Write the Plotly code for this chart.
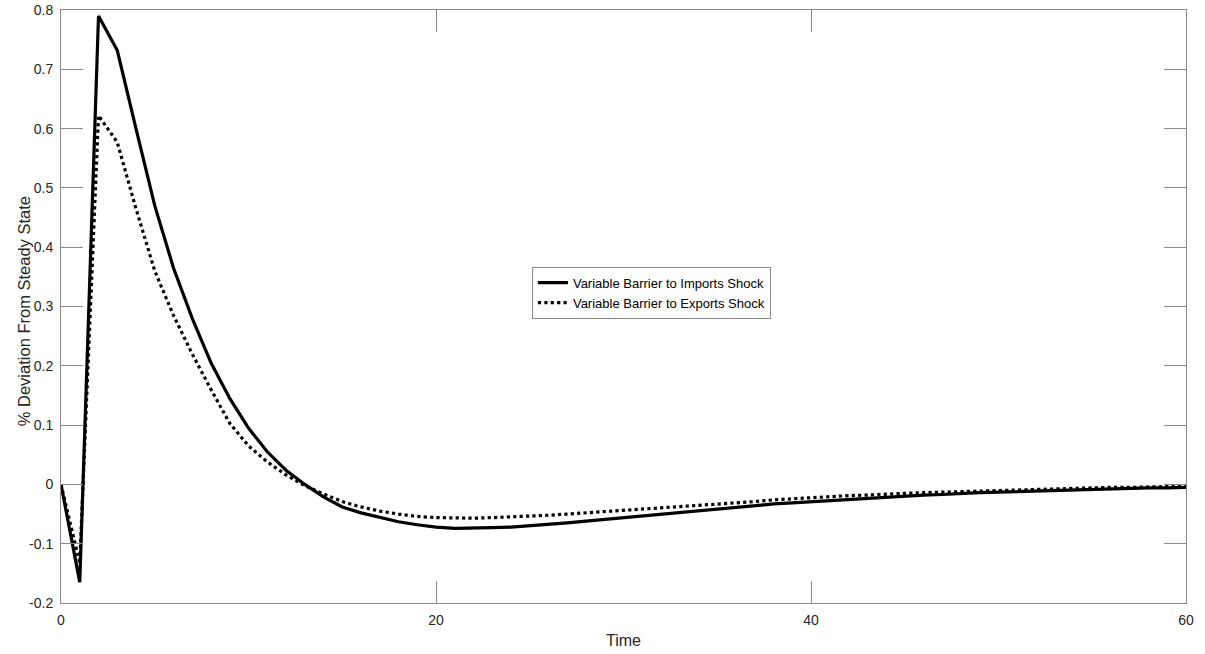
import plotly.graph_objects as go

time = list(range(0, 61))

imports_shock = [
    0.0, -0.165, 0.79, 0.732, 0.60, 0.47, 0.365, 0.28, 0.205, 0.145,
    0.095, 0.055, 0.024, 0.0, -0.021, -0.038, -0.048, -0.056, -0.063, -0.068,
    -0.072, -0.074, -0.074, -0.073, -0.072, -0.070, -0.068, -0.065, -0.062, -0.059,
    -0.056, -0.053, -0.050, -0.047, -0.044, -0.041, -0.038, -0.036, -0.033, -0.031,
    -0.029, -0.027, -0.025, -0.023, -0.021, -0.020, -0.018, -0.017, -0.015, -0.014,
    -0.013, -0.012, -0.011, -0.010, -0.009, -0.008, -0.008, -0.007, -0.006, -0.006,
    -0.005,
]

exports_shock = [
    0.0, -0.133, 0.622, 0.577, 0.465, 0.36, 0.285, 0.22, 0.16, 0.103,
    0.065, 0.038, 0.016, -0.002, -0.016, -0.029, -0.038, -0.045, -0.050, -0.054,
    -0.056, -0.057, -0.057, -0.056, -0.055, -0.054, -0.052, -0.050, -0.048, -0.046,
    -0.044, -0.042, -0.040, -0.037, -0.035, -0.033, -0.031, -0.029, -0.026, -0.024,
    -0.022, -0.021, -0.019, -0.018, -0.016, -0.015, -0.014, -0.013, -0.012, -0.011,
    -0.010, -0.009, -0.008, -0.007, -0.007, -0.006, -0.005, -0.005, -0.004, -0.004,
    -0.003,
]

series_names = ["Variable Barrier to Imports Shock", "Variable Barrier to Exports Shock"]
x_title = "Time"
y_title = "% Deviation From Steady State"

x_ticks = [0, 20, 40, 60]
y_ticks = [-0.2, -0.1, 0, 0.1, 0.2, 0.3, 0.4, 0.5, 0.6, 0.7, 0.8]
y_tick_labels = ["-0.2", "-0.1", "0", "0.1", "0.2", "0.3", "0.4", "0.5", "0.6", "0.7", "0.8"]

FONT = "Arial, Liberation Sans, Helvetica, sans-serif"
AXIS = "#8a8a8a"
TXT = "#262626"

fig = go.Figure()
fig.add_trace(go.Scatter(x=time, y=imports_shock, mode="lines", name=series_names[0],
                         line=dict(color="black", width=3.2, dash="solid")))
fig.add_trace(go.Scatter(x=time, y=exports_shock, mode="lines", name=series_names[1],
                         line=dict(color="black", width=3.2, dash="dot")))

fig.update_layout(
    width=1205, height=654,
    margin=dict(l=61, r=19, t=10, b=51),
    paper_bgcolor="white", plot_bgcolor="white",
    font=dict(family=FONT, size=14, color=TXT),
    showlegend=True,
    legend=dict(x=0.4186, y=0.567, xanchor="left", yanchor="top",
                bordercolor=AXIS, borderwidth=1, bgcolor="white",
                font=dict(family=FONT, size=13, color="black"),
                tracegroupgap=0, itemwidth=30),
    annotations=[
        dict(text=x_title, xref="paper", yref="paper", x=0.5, y=-0.0624,
             xanchor="center", yanchor="middle", showarrow=False,
             font=dict(family=FONT, size=16, color=TXT)),
        dict(text=y_title, xref="paper", yref="paper", x=-0.0329, y=0.492,
             xanchor="center", yanchor="middle", showarrow=False, textangle=-90,
             font=dict(family=FONT, size=16.5, color=TXT)),
    ],
)
fig.update_xaxes(
    range=[0, 60], tickmode="array", tickvals=x_ticks, ticktext=[str(v) for v in x_ticks],
    ticks="inside", ticklen=22, tickwidth=1, tickcolor=AXIS,
    showline=True, linecolor=AXIS, linewidth=1, mirror="ticks",
    showgrid=False, zeroline=False, automargin=False, ticklabelstandoff=4,
    tickfont=dict(family=FONT, size=14, color=TXT),
)
fig.update_yaxes(
    range=[-0.2, 0.8], tickmode="array", tickvals=y_ticks, ticktext=y_tick_labels,
    ticks="inside", ticklen=22, tickwidth=1, tickcolor=AXIS,
    showline=True, linecolor=AXIS, linewidth=1, mirror="ticks",
    showgrid=False, zeroline=False, automargin=False, ticklabelstandoff=4,
    tickfont=dict(family=FONT, size=14, color=TXT),
)

fig.write_html(
    "out.html",
    config={"displayModeBar": False},
    post_script="document.body.style.margin='0';document.body.style.overflow='hidden';",
)
